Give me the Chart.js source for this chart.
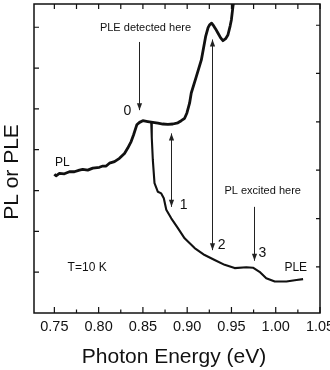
<!DOCTYPE html>
<html>
<head>
<meta charset="utf-8">
<script src="https://cdn.jsdelivr.net/npm/chart.js@4"></script>
<style>
  html, body { margin: 0; padding: 0; background: #fff; }
  #wrap { width: 330px; height: 370px; }
</style>
</head>
<body>
<div id="wrap"><canvas id="chart" width="330" height="370"></canvas></div>
<script>
// PL spectrum (upper curve), photon energy in eV vs arbitrary intensity
const PL_X = [0.7500, 0.7519, 0.7557, 0.7613, 0.7670, 0.7726, 0.7783, 0.7820, 0.7877, 0.7934,
              0.8009, 0.8047, 0.8085, 0.8122, 0.8179, 0.8235, 0.8292, 0.8329, 0.8367, 0.8394,
              0.8431, 0.8462, 0.8499, 0.8555, 0.8612, 0.8669, 0.8725, 0.8782, 0.8838, 0.8895,
              0.8933, 0.8971, 0.8997, 0.9027, 0.9046, 0.9103, 0.9160, 0.9208, 0.9236, 0.9253,
              0.9276, 0.9291, 0.9321, 0.9347, 0.9378, 0.9404, 0.9434, 0.9460, 0.9485, 0.9499,
              0.9517, 0.9531];
const PL_Y = [3.40, 3.36, 3.42, 3.41, 3.46, 3.46, 3.50, 3.52, 3.50, 3.55,
              3.57, 3.60, 3.60, 3.67, 3.71, 3.79, 3.91, 4.04, 4.20, 4.36,
              4.61, 4.67, 4.71, 4.69, 4.67, 4.65, 4.63, 4.62, 4.63, 4.66,
              4.71, 4.77, 4.90, 5.14, 5.39, 5.79, 6.20, 6.77, 6.99, 7.06,
              7.10, 7.06, 6.96, 6.86, 6.74, 6.67, 6.72, 6.81, 7.03, 7.18,
              7.51, 7.72];

// PLE spectrum (lower curve)
const PLE_X = [0.8594, 0.8600, 0.8612, 0.8631, 0.8669, 0.8707, 0.8736, 0.8764, 0.8820, 0.8895,
               0.8971, 0.9084, 0.9197, 0.9310, 0.9423, 0.9536, 0.9668, 0.9743, 0.9817, 0.9893,
               0.9989, 1.0121, 1.0234, 1.0309];
const PLE_Y = [4.66, 4.30, 3.75, 3.18, 2.97, 2.93, 2.81, 2.53, 2.32, 2.08,
               1.83, 1.59, 1.42, 1.30, 1.18, 1.10, 1.12, 1.11, 1.01, 0.85,
               0.77, 0.77, 0.81, 0.83];

// axis ticks
const X_MAJOR = [0.75, 0.80, 0.85, 0.90, 0.95, 1.00, 1.05];
const X_MINOR = [0.775, 0.825, 0.875, 0.925, 0.975, 1.025];
const Y_LEFT = [1, 2, 3, 4, 5, 6, 7];
const Y_RIGHT = [1.13, 2.31, 3.50, 4.68, 5.87, 7.05];

// arrows: x position, start y, end y, which ends get a head
const ARROW_X = [0.8454, 0.8820, 0.9285, 0.9750];
const ARROW_Y0 = [6.64, 4.40, 6.70, 2.60];
const ARROW_Y1 = [4.97, 2.60, 1.54, 1.28];
const ARROW_HEADS = ['end', 'both', 'both', 'end'];

// text notes
const NOTE_TEXT = ['PLE detected here', '0', '1', '2', '3', 'PL', 'PLE', 'T=10 K', 'PL excited here'];
const NOTE_X = [0.8529, 0.8325, 0.8960, 0.9390, 0.9850, 0.7590, 1.0226, 0.7870, 0.9853];
const NOTE_Y = [6.98, 4.95, 2.65, 1.66, 1.46, 3.69, 1.12, 1.12, 2.99];
const NOTE_SIZE = [11, 14, 14, 14, 14, 12, 12, 12, 11];

const FONT = '"Liberation Sans", Arial, Helvetica, sans-serif';
const INK = '#111';

function xy(xs, ys) {
    return xs.map((x, i) => ({ x, y: ys[i] }));
}

function arrowHead(ctx, x, y, dir) {
    // dir = 1 points down, -1 points up
    ctx.beginPath();
    ctx.moveTo(x, y);
    ctx.lineTo(x - 2.6, y - dir * 7);
    ctx.lineTo(x + 2.6, y - dir * 7);
    ctx.closePath();
    ctx.fill();
}

const frameTicks = {
    id: 'frameTicks',
    afterDatasetsDraw(chart) {
        const { ctx, chartArea: a, scales: { x, y } } = chart;
        ctx.save();
        ctx.strokeStyle = INK;
        ctx.lineWidth = 1.5;
        ctx.strokeRect(a.left, a.top, a.right - a.left, a.bottom - a.top);
        ctx.lineWidth = 1.2;
        ctx.beginPath();
        X_MAJOR.forEach(v => {
            const px = x.getPixelForValue(v);
            ctx.moveTo(px, a.bottom); ctx.lineTo(px, a.bottom - 6);
            ctx.moveTo(px, a.top); ctx.lineTo(px, a.top + 5);
        });
        X_MINOR.forEach(v => {
            const px = x.getPixelForValue(v);
            ctx.moveTo(px, a.bottom); ctx.lineTo(px, a.bottom - 3.5);
            ctx.moveTo(px, a.top); ctx.lineTo(px, a.top + 5);
        });
        Y_LEFT.forEach(v => {
            const py = y.getPixelForValue(v);
            ctx.moveTo(a.left, py); ctx.lineTo(a.left + 5, py);
        });
        Y_RIGHT.forEach(v => {
            const py = y.getPixelForValue(v);
            ctx.moveTo(a.right, py); ctx.lineTo(a.right - 4, py);
        });
        ctx.stroke();
        ctx.restore();
    }
};

const notes = {
    id: 'notes',
    afterDatasetsDraw(chart) {
        const { ctx, scales: { x, y } } = chart;
        ctx.save();
        ctx.strokeStyle = '#222';
        ctx.fillStyle = '#222';
        ctx.lineWidth = 1;
        ARROW_X.forEach((v, i) => {
            const px = Math.round(x.getPixelForValue(v)) + 0.5;
            const y0 = y.getPixelForValue(ARROW_Y0[i]);
            const y1 = y.getPixelForValue(ARROW_Y1[i]);
            ctx.beginPath();
            ctx.moveTo(px, y0); ctx.lineTo(px, y1);
            ctx.stroke();
            arrowHead(ctx, px, y1, 1);
            if (ARROW_HEADS[i] === 'both') arrowHead(ctx, px, y0, -1);
        });
        ctx.fillStyle = INK;
        ctx.textAlign = 'center';
        ctx.textBaseline = 'middle';
        NOTE_TEXT.forEach((t, i) => {
            ctx.font = NOTE_SIZE[i] + 'px ' + FONT;
            ctx.fillText(t, x.getPixelForValue(NOTE_X[i]), y.getPixelForValue(NOTE_Y[i]));
        });
        // axis titles
        ctx.font = '21px ' + FONT;
        ctx.fillText('Photon Energy (eV)', 174, 357);
        ctx.translate(12, 172);
        ctx.rotate(-Math.PI / 2);
        ctx.fillText('PL or PLE', 0, 0);
        ctx.restore();
    }
};

new Chart(document.getElementById('chart'), {
    type: 'line',
    data: {
        datasets: [
            { label: 'PL', data: xy(PL_X, PL_Y), borderColor: INK, borderWidth: 2.8 },
            { label: 'PLE', data: xy(PLE_X, PLE_Y), borderColor: INK, borderWidth: 2.1 }
        ]
    },
    options: {
        responsive: false,
        animation: false,
        layout: { padding: { left: 0, right: 10, top: 4, bottom: 0 } },
        elements: { point: { radius: 0 }, line: { tension: 0, borderJoinStyle: 'round' } },
        plugins: { legend: { display: false }, tooltip: { enabled: false } },
        scales: {
            x: {
                type: 'linear',
                min: 0.727,
                max: 1.05,
                afterBuildTicks: s => { s.ticks = X_MAJOR.map(v => ({ value: v })); },
                afterFit: s => { s.height = 57; s.paddingLeft = 0; s.paddingRight = 0; },
                grid: { display: false, drawTicks: false },
                border: { display: false },
                ticks: {
                    autoSkip: false,
                    maxRotation: 0,
                    padding: 5,
                    color: INK,
                    font: { family: FONT, size: 14.5 },
                    callback: v => Number(v).toFixed(2)
                }
            },
            y: {
                min: 0,
                max: 7.57,
                afterFit: s => { s.width = 34; },
                grid: { display: false, drawTicks: false },
                border: { display: false },
                ticks: { display: false }
            }
        }
    },
    plugins: [frameTicks, notes]
});
</script>
</body>
</html>
